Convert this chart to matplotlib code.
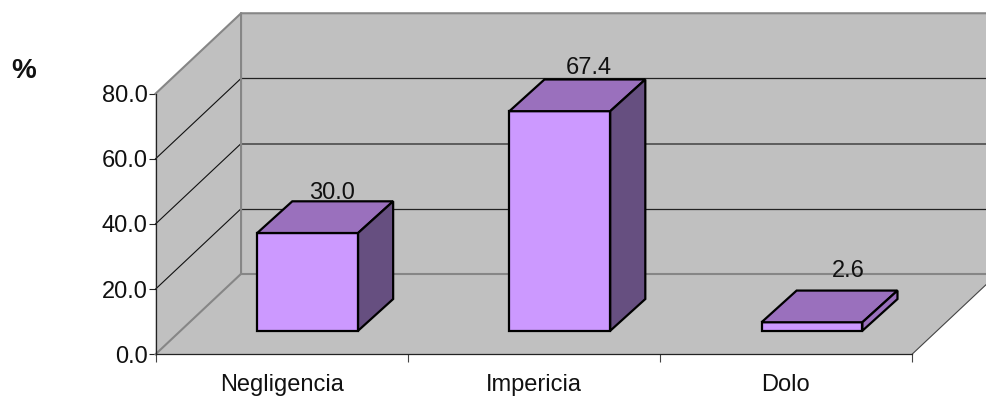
import matplotlib
matplotlib.use("Agg")
import matplotlib.pyplot as plt

categories = ["Negligencia", "Impericia", "Dolo"]
values = [30.0, 67.4, 2.6]
value_labels = ["30.0", "67.4", "2.6"]
y_ticks = [0, 20, 40, 60, 80]

W, H = 986, 397
WALL = "#C0C0C0"
EDGE = "#868686"
FRONT = "#CC99FF"
TOP = "#9A70BD"
SIDE = "#664F80"

# oblique offset of the back wall, in data units
DEPTH_X = 85.5 / 252
DEPTH_Y = 80.5 / 3.26
BAR_HALF = 0.2
BAR_NEAR, BAR_FAR = 0.293, 0.687
BAR_SKEW = 1.04
# pixel nudges of the value labels from each bar's far top edge
LABEL_NUDGE = [(-11, 2), (-6, 5), (1, 14)]

plt.rcParams["font.family"] = ["Liberation Sans", "DejaVu Sans"]
fig = plt.figure(figsize=(W / 100, H / 100), dpi=100)
ax = fig.add_axes([155.5 / W, (H - 354.3) / H, (912 - 155.5) / W, (354.3 - 93.7) / H])
ax.set_xlim(-0.5, 2.5)
ax.set_ylim(0, 80)
ax.patch.set_visible(False)


def proj(x, v, d):
    return x + d * DEPTH_X, v + d * DEPTH_Y


def bar_proj(x, v, d):
    return x + d * DEPTH_X * BAR_SKEW, v + d * DEPTH_Y


def poly(points, color, edge="none", lw=0, z=1):
    xs, ys = zip(*points)
    ax.fill(xs, ys, facecolor=color, edgecolor=edge, linewidth=lw, clip_on=False,
            zorder=z, joinstyle="miter")


x0, x1 = ax.get_xlim()
v0, v1 = ax.get_ylim()

# back wall, left wall, floor
poly([proj(x0, v0, 1), proj(x1, v0, 1), proj(x1, v1, 1), proj(x0, v1, 1)], WALL)
poly([proj(x0, v0, 0), proj(x0, v0, 1), proj(x0, v1, 1), proj(x0, v1, 0)], WALL)
poly([proj(x0, v0, 0), proj(x1, v0, 0), proj(x1, v0, 1), proj(x0, v0, 1)], WALL)

# gridlines run along the left wall and across the back wall
for t in y_ticks[1:-1]:
    a, b = proj(x0, t, 0), proj(x0, t, 1)
    c = proj(x1, t, 1)
    ax.plot([a[0], b[0]], [a[1], b[1]], color="#111111", lw=0.8, clip_on=False, zorder=2)
    heavy = t == 40
    ax.plot([b[0], c[0]], [b[1], c[1]], color="#555555" if heavy else "#222222",
            lw=1.3 if heavy else 0.9, clip_on=False, zorder=2)

# wall outlines
a, b, c = proj(x0, v1, 0), proj(x0, v1, 1), proj(x1, v1, 1)
ax.plot([a[0], b[0], c[0]], [a[1], b[1], c[1]], color=EDGE, lw=1.5, clip_on=False, zorder=2)
a, b, c = proj(x0, v0, 0), proj(x0, v0, 1), proj(x0, v1, 1)
ax.plot([a[0], b[0], c[0]], [a[1], b[1], c[1]], color=EDGE, lw=1.5, clip_on=False, zorder=2)
a, b = proj(x0, v0, 1), proj(x1, v0, 1)
ax.plot([a[0], b[0]], [a[1], b[1]], color=EDGE, lw=1.5, clip_on=False, zorder=2)
a, b = proj(x1, v0, 0), proj(x1, v0, 1)
ax.plot([a[0], b[0]], [a[1], b[1]], color="#444444", lw=0.8, clip_on=False, zorder=2)

# oblique bars
for i, val in enumerate(values):
    l, r = i - BAR_HALF, i + BAR_HALF
    poly([bar_proj(l, 0, BAR_NEAR), bar_proj(r, 0, BAR_NEAR), bar_proj(r, val, BAR_NEAR), bar_proj(l, val, BAR_NEAR)],
         FRONT, "black", 1.6, 3)
    poly([bar_proj(l, val, BAR_NEAR), bar_proj(r, val, BAR_NEAR), bar_proj(r, val, BAR_FAR), bar_proj(l, val, BAR_FAR)],
         TOP, "black", 1.6, 3)
    poly([bar_proj(r, 0, BAR_NEAR), bar_proj(r, 0, BAR_FAR), bar_proj(r, val, BAR_FAR), bar_proj(r, val, BAR_NEAR)],
         SIDE if val > 5 else TOP, "black", 1.6, 3)
    ax.annotate(value_labels[i], xy=bar_proj(i, val, BAR_FAR), xytext=LABEL_NUDGE[i],
                textcoords="offset pixels", ha="center", va="baseline", fontsize=17,
                color="#111111", zorder=4, annotation_clip=False)

ax.set_xticks(range(len(categories)))
ax.set_xticklabels(categories)
ax.set_xticks([-0.5, 0.5, 1.5, 2.5], minor=True)
ax.tick_params(axis="x", which="major", length=0, pad=14.5, labelsize=17, labelcolor="#111111")
ax.tick_params(axis="x", which="minor", length=6, width=0.8, color="#444444")
ax.set_yticks(y_ticks)
ax.set_yticklabels([f"{t:.1f}" for t in y_ticks])
ax.tick_params(axis="y", length=5, width=0.8, pad=0.5, labelsize=17, labelcolor="#111111", color="#222222")

for name in ("top", "right"):
    ax.spines[name].set_visible(False)
for name in ("left", "bottom"):
    ax.spines[name].set_color("#222222")
    ax.spines[name].set_linewidth(0.9)
    ax.spines[name].set_zorder(2)

fig.text(24 / W, 1 - 71 / H, "%", ha="center", va="center", fontsize=20,
         fontweight="bold", color="#111111")

fig.savefig("out.png", dpi=100)
plt.close(fig)
